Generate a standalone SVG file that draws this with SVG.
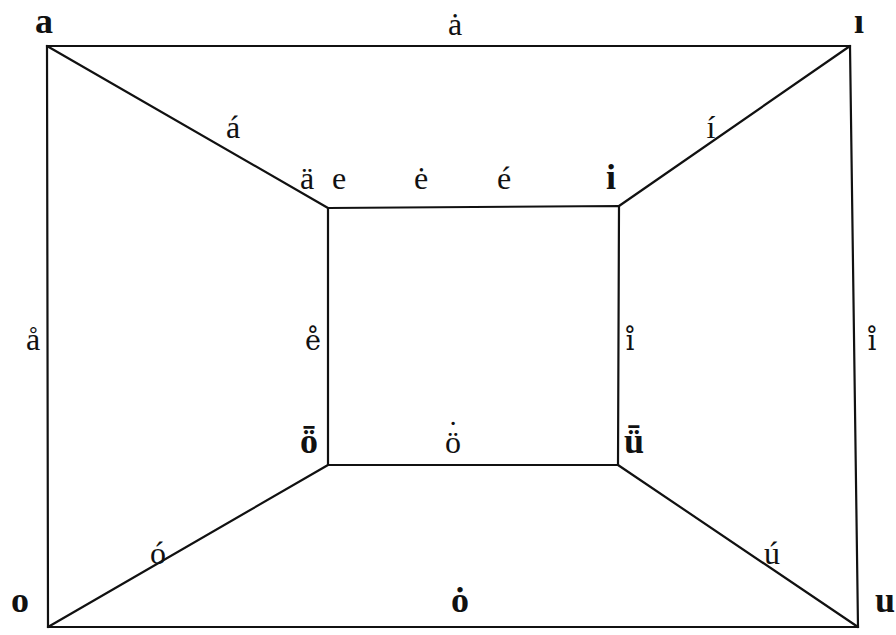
<svg xmlns="http://www.w3.org/2000/svg" width="896" height="635" viewBox="0 0 896 635">
<style>
.ln{stroke:#111;stroke-width:2.2;fill:none;stroke-linecap:round}
text{font-family:"Liberation Serif","DejaVu Serif",serif;font-size:32px;fill:#111;text-anchor:middle}
.b{font-weight:bold;font-size:36px}
.c{font-family:"DejaVu Serif",serif;font-size:27px}
.s{text-anchor:start}
</style>
<rect width="896" height="635" fill="#fff"/>
<g id="connectors">
<path class="ln" d="M47,46 L850,46 L858,627 L48,627 Z"/>
<path class="ln" d="M328,208 L619,206 L618,465 L328,465 Z"/>
<line class="ln" x1="47" y1="46" x2="328" y2="208"/>
<line class="ln" x1="850" y1="46" x2="619" y2="206"/>
<line class="ln" x1="48" y1="627" x2="328" y2="465"/>
<line class="ln" x1="858" y1="627" x2="618" y2="465"/>
</g>
<g id="corner-a"><text class="b" x="44" y="33">a</text></g>
<g id="corner-i-dotless"><text class="b" x="859" y="33">ı</text></g>
<g id="corner-o"><text class="b" x="20" y="612">o</text></g>
<g id="corner-u"><text class="b" x="885" y="612">u</text></g>
<g id="inner-i"><text class="b" x="611" y="189">i</text></g>
<g id="inner-o"><text class="b" x="309" y="453">ȫ</text></g>
<g id="inner-u"><text class="b" x="634" y="453">ǖ</text></g>
<g id="labels">
<text x="455" y="35">ȧ</text>
<text x="233" y="138">á</text>
<text x="711" y="138">í</text>
<text x="307" y="189">ä</text>
<text x="339" y="189">e</text>
<text x="421" y="189">ė</text>
<text x="504" y="189">é</text>
<text x="33" y="350">å</text>
<text class="c" x="313" y="350">e̊</text>
<text class="c" x="630" y="350">ı̊</text>
<text class="c" x="872" y="350">ı̊</text>
<text class="s" x="445" y="453">ö<tspan dx="-13.3" dy="-10">˙</tspan></text>
<text x="158" y="564">ó</text>
<text x="772" y="564">ú</text>
<text class="b" x="460" y="612">ȯ</text>
</g>
</svg>
